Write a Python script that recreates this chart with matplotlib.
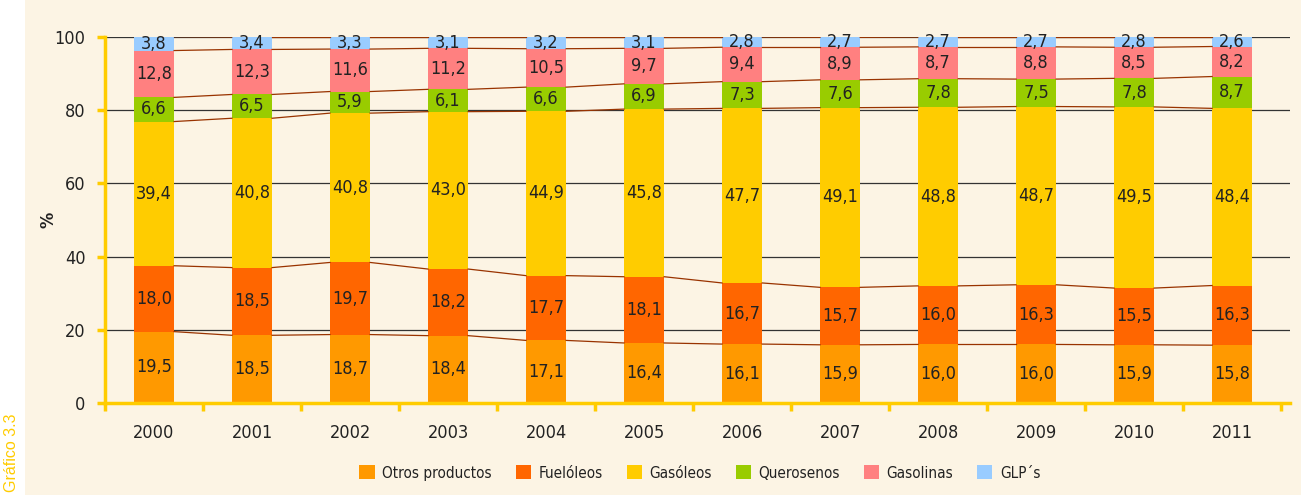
import matplotlib
matplotlib.use("Agg")
import matplotlib.pyplot as plt
import numpy as np
from matplotlib.patches import Rectangle, Patch

years = ["2000", "2001", "2002", "2003", "2004", "2005",
         "2006", "2007", "2008", "2009", "2010", "2011"]
series = ["Otros productos", "Fuelóleos", "Gasóleos", "Querosenos", "Gasolinas", "GLP´s"]
otros = [19.5, 18.5, 18.7, 18.4, 17.1, 16.4, 16.1, 15.9, 16.0, 16.0, 15.9, 15.8]
fuel = [18.0, 18.5, 19.7, 18.2, 17.7, 18.1, 16.7, 15.7, 16.0, 16.3, 15.5, 16.3]
gasoleos = [39.4, 40.8, 40.8, 43.0, 44.9, 45.8, 47.7, 49.1, 48.8, 48.7, 49.5, 48.4]
querosenos = [6.6, 6.5, 5.9, 6.1, 6.6, 6.9, 7.3, 7.6, 7.8, 7.5, 7.8, 8.7]
gasolinas = [12.8, 12.3, 11.6, 11.2, 10.5, 9.7, 9.4, 8.9, 8.7, 8.8, 8.5, 8.2]
glp = [3.8, 3.4, 3.3, 3.1, 3.2, 3.1, 2.8, 2.7, 2.7, 2.7, 2.8, 2.6]
colors = ["#FF9900", "#FF6600", "#FFCC00", "#99CC00", "#FF8080", "#99CCFF"]

plt.rcParams['font.family'] = ['DejaVu Sans']
plt.rcParams['font.stretch'] = 'condensed'
bg = "#FCF4E4"
yellow = "#FFCC00"
txt = "#222222"

fig = plt.figure(figsize=(13.01, 4.95), dpi=100, facecolor=bg)
fig.patches.append(Rectangle((0, 0), 25 / 1301, 1, transform=fig.transFigure,
                             facecolor="white", edgecolor="none", zorder=0))
ax = fig.add_axes([105 / 1301, 92 / 495, 1185 / 1301, 366 / 495])
ax.set_facecolor(bg)

data = np.array([otros, fuel, gasoleos, querosenos, gasolinas, glp])
x = np.arange(len(years))
w = 0.41
bottom = np.zeros(len(years))

for y in [20, 40, 60, 80, 100]:
    ax.axhline(y, color="#333333", lw=0.9, zorder=1)

for vals, name, c in zip(data, series, colors):
    ax.bar(x, vals, w, bottom=bottom, color=c, label=name, zorder=2, clip_on=False)
    for xi, b, v in zip(x, bottom, vals):
        ax.text(xi, b + v / 2, f"{v:.1f}".replace(".", ","), ha="center", va="center",
                fontsize=13, color=txt, zorder=4)
    bottom = bottom + vals
    # connecting lines between bar tops
    for i in range(len(years) - 1):
        ax.plot([x[i] + w / 2, x[i + 1] - w / 2], [bottom[i], bottom[i + 1]],
                color="#993300", lw=0.9, zorder=3)

ax.set_xlim(-0.49, 11.59)
ax.set_ylim(0, 100)
ax.set_yticks([0, 20, 40, 60, 80, 100])
ax.set_xticks(x)
ax.set_xticklabels(years)
ax.set_xticks(np.arange(-0.5, 11.6, 1), minor=True)
ax.tick_params(axis="x", which="major", length=0, pad=15, labelsize=13, labelcolor=txt)
ax.tick_params(axis="x", which="minor", length=6, width=2.5, color=yellow, direction="out")
ax.tick_params(axis="y", length=6, width=2.5, color=yellow, labelsize=13, pad=8,
               labelcolor=txt)
for s in ["top", "right"]:
    ax.spines[s].set_visible(False)
for s in ["left", "bottom"]:
    ax.spines[s].set_color(yellow)
    ax.spines[s].set_linewidth(2.5)
ax.set_ylabel("%", fontsize=13, color=txt, fontweight="bold")
ax.yaxis.set_label_coords(-0.04, 0.5)

handles = [Patch(facecolor=c, edgecolor="none") for c in colors]
fig.legend(handles, series, loc="center", bbox_to_anchor=(700 / 1301, 22 / 495), ncol=6,
           frameon=False, fontsize=11, handlelength=1.0, handleheight=1.0,
           columnspacing=1.55, handletextpad=0.5, labelcolor=txt)

fig.text(12 / 1301, 3 / 495, "Gráfico 3.3", rotation=90, color=yellow, fontsize=11.5,
         family=["Liberation Sans", "DejaVu Sans"], stretch="normal",
         ha="center", va="bottom")

fig.savefig("out.png", dpi=100, facecolor=bg)
